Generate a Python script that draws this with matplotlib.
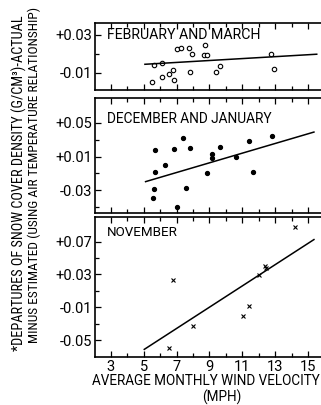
import matplotlib
matplotlib.use("Agg")
import matplotlib.pyplot as plt

plt.rcParams['font.family'] = ['Roboto', 'DejaVu Sans']
NARROW = ['Roboto Condensed', 'Liberation Sans Narrow', 'Roboto', 'DejaVu Sans']

# February and March (open circles)
fm_x = [5.48, 5.62, 6.13, 6.13, 6.55, 6.80, 6.86, 7.00, 7.24, 7.75, 7.91, 7.81,
        8.74, 8.68, 8.86, 9.39, 9.64, 12.74, 12.95]
fm_y = [-0.0192, -0.0016, 0.0002, -0.0146, -0.0111, -0.0069, -0.0177, 0.0149, 0.0167,
        0.0160, 0.0100, -0.0090, 0.0191, 0.0089, 0.0093, -0.0086, -0.0026, 0.0100, -0.0061]
fm_line_x = [5.07, 15.53]
fm_line_y = [-0.0009, 0.0097]

# December and January (filled dots)
dj_x = [5.66, 5.68, 6.31, 6.82, 7.37, 7.79, 9.15, 9.15, 9.62, 8.85, 10.59, 11.40,
        11.67, 12.82, 5.60, 7.59, 5.54, 7.00]
dj_y = [0.0174, -0.0080, -0.0006, 0.0190, 0.0315, 0.0198, 0.0124, 0.0085, 0.0210,
        -0.0096, 0.0096, 0.0280, -0.0080, 0.0339, -0.0280, -0.0268, -0.0397, -0.0496]
dj_line_x = [5.11, 15.36]
dj_line_y = [-0.0198, 0.0390]

# November (crosses)
nv_x = [14.22, 6.80, 12.38, 12.42, 12.03, 11.39, 11.06, 8.01, 6.55]
nv_y = [0.0884, 0.0235, 0.0406, 0.0373, 0.0288, -0.0083, -0.0206, -0.0328, -0.0594]
nv_line_x = [5.03, 15.36]
nv_line_y = [-0.0613, 0.0725]

x_ticks = [3, 5, 7, 9, 11, 13, 15]

W, H = 321, 405
fig = plt.figure(figsize=(3.21, 4.05), dpi=100)


def px_axes(top, bottom, left=95, right=321):
    return fig.add_axes([left / W, 1 - bottom / H, (right - left) / W, (bottom - top) / H])


ax1 = px_axes(23, 90)
ax2 = px_axes(98, 213)
ax3 = px_axes(217, 357)

ax1.plot(fm_x, fm_y, 'o', ms=3.2, mfc='white', mec='black', mew=0.8)
ax1.plot(fm_line_x, fm_line_y, color='black', lw=1.1)
ax2.plot(dj_x, dj_y, 'o', ms=2.8, color='black')
ax2.plot(dj_line_x, dj_line_y, color='black', lw=1.1)
ax3.plot(nv_x, nv_y, 'x', ms=2.6, mew=0.8, color='black')
ax3.plot(nv_line_x, nv_line_y, color='black', lw=1.1)

ax1.set_ylim(-0.028, 0.0426)
ax2.set_ylim(-0.057, 0.0794)
ax3.set_ylim(-0.0706, 0.100)

ax1.set_yticks([0.03, -0.01], ['+0.03', '-0.01'])
ax1.set_yticks([0.01], minor=True)
ax2.set_yticks([0.05, 0.01, -0.03], ['+0.05', '+0.01', '-0.03'])
ax2.set_yticks([0.03, -0.01, -0.05], minor=True)
ax3.set_yticks([0.07, 0.03, -0.01, -0.05], ['+0.07', '+0.03', '-0.01', '-0.05'])
ax3.set_yticks([0.05, 0.01, -0.03], minor=True)

titles = ['FEBRUARY AND MARCH', 'DECEMBER AND JANUARY', 'NOVEMBER']
title_y = [0.82, 0.817, 0.886]
title_w = [155, 167, 71]
fitted = []
for ax, t, ty, tw in zip([ax1, ax2, ax3], titles, title_y, title_w):
    ax.set_xlim(2.03, 15.79)
    ax.set_xticks(x_ticks)
    ax.set_xticks(range(3, 16), minor=True)
    ax.tick_params(which='both', direction='in', top=True, labelsize=10.5, pad=2)
    ax.tick_params(which='major', length=4, width=0.9)
    ax.tick_params(which='minor', length=3, width=0.9)
    ax.spines['right'].set_visible(False)
    for s in ['left', 'top', 'bottom']:
        ax.spines[s].set_linewidth(1.2)
    txt = ax.text(0.053, ty, t, transform=ax.transAxes, fontsize=10.5, va='center', ha='left')
    fitted.append((txt, tw))
    if ax is not ax3:
        ax.tick_params(labelbottom=False)

t1 = fig.text(92 / W, 1 - 381 / H, 'AVERAGE MONTHLY WIND VELOCITY', ha='left', va='center')
t3 = fig.text(19 / W, 1 - 183 / H, '*DEPARTURES OF SNOW COVER DENSITY (G/CM³)-ACTUAL',
              rotation=90, ha='center', va='center', family=NARROW)
t4 = fig.text(34 / W, 1 - 175 / H, 'MINUS ESTIMATED (USING AIR TEMPERATURE RELATIONSHIP)',
              rotation=90, ha='center', va='center', family=NARROW)
fitted += [(t1, 228), (t3, 337), (t4, 335)]

# scale each label so its length matches the reference
fig.canvas.draw()
r = fig.canvas.get_renderer()
for txt, target in fitted:
    bb = txt.get_window_extent(r)
    txt.set_fontsize(txt.get_fontsize() * target / max(bb.width, bb.height))

fig.text(222 / W, 1 - 397 / H, '(MPH)', ha='center', va='center', fontsize=t1.get_fontsize())

fig.savefig('out.png', dpi=100)
